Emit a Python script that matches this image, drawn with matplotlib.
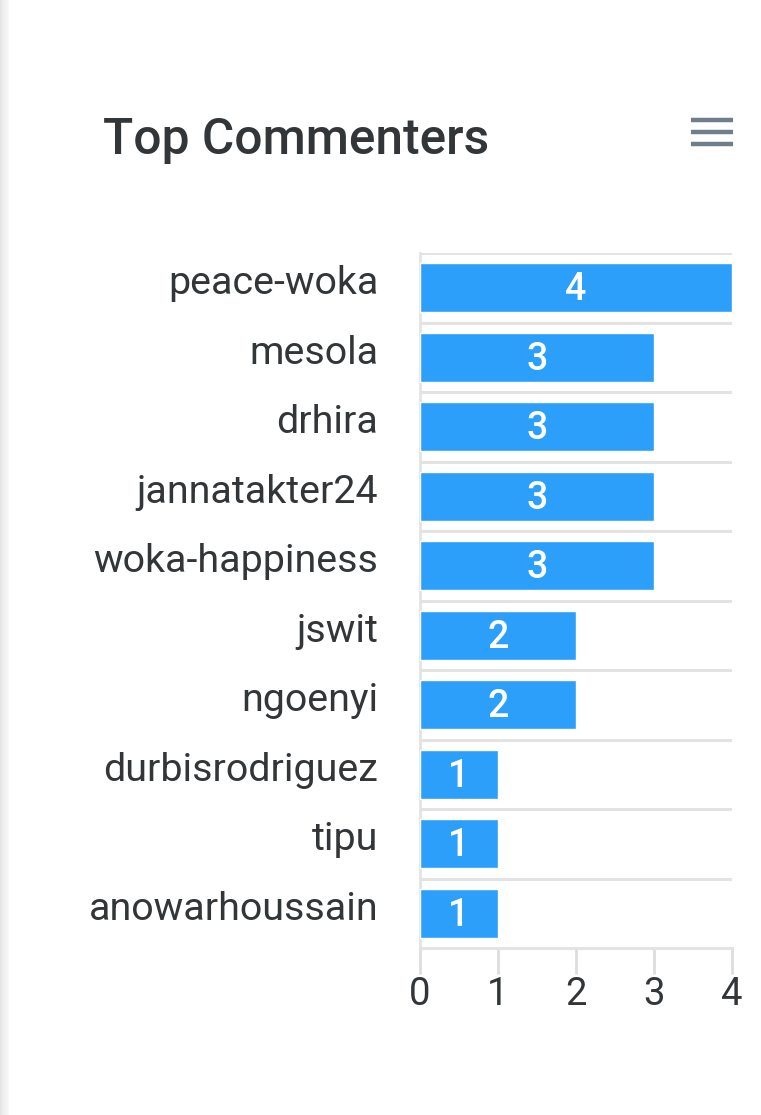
import matplotlib
matplotlib.use("Agg")
import matplotlib.pyplot as plt
from matplotlib.patches import Rectangle
from matplotlib.lines import Line2D
import matplotlib.transforms as mtransforms

names = ["peace-woka", "mesola", "drhira", "jannatakter24", "woka-happiness",
         "jswit", "ngoenyi", "durbisrodriguez", "tipu", "anowarhoussain"]
counts = [4, 3, 3, 3, 3, 2, 2, 1, 1, 1]
xticks = [0, 1, 2, 3, 4]
title = "Top Commenters"

W, H = 761, 1115
dpi = 100
plt.rcParams['font.family'] = ['Roboto', 'DejaVu Sans']
fig = plt.figure(figsize=(W / dpi, H / dpi), dpi=dpi)
fig.patch.set_facecolor("white")

# left shadow strip
for i, c in enumerate(["#e4e4e4", "#e8e8e8", "#ebebeb", "#eeeeee", "#f0f0f0", "#f2f2f2", "#f4f4f4", "#f6f6f6", "#f8f8f8"]):
    fig.add_artist(Rectangle((i / W, 0), 1.0 / W, 1, transform=fig.transFigure, color=c, lw=0))

# title
fig.text(103 / W, 1 - 140 / H, title, fontsize=35.7, fontweight='medium', color="#333638",
         ha='left', va='center')

# hamburger menu
for yy in [120, 132, 144]:
    fig.add_artist(Line2D([691 / W, 733 / W], [1 - yy / H, 1 - yy / H], transform=fig.transFigure,
                          color="#6f7e8c", lw=3.2, solid_capstyle='butt'))

ax = fig.add_axes([420 / W, 1 - 948 / H, 312 / W, 695 / H])
y = list(range(len(names)))
bars = ax.barh(y, counts, height=0.70, color="#2b9ffa", edgecolor="white", linewidth=1, zorder=3)
ax.set_ylim(len(names) - 0.5, -0.5)
ax.set_xlim(0, 4)

ax.set_yticks(y)
ax.set_yticklabels(names, fontsize=28.4, color="#333638")
ax.tick_params(axis='y', length=0, pad=30)
up = mtransforms.ScaledTranslation(0, 8 / dpi, fig.dpi_scale_trans)
for lab in ax.get_yticklabels():
    lab.set_transform(lab.get_transform() + up)
ax.set_yticks([i - 0.5 for i in range(len(names) + 1)], minor=True)
ax.tick_params(axis='y', which='minor', length=0)
ax.grid(axis='y', which='minor', color="#e3e3e3", lw=2.2, zorder=0)
ax.grid(axis='y', which='major', visible=False)
ax.grid(axis='x', visible=False)

ax.set_xticks(xticks)
ax.set_xticklabels([str(t) for t in xticks], fontsize=27.5, color="#333638")
ax.tick_params(axis='x', length=19, width=2, color="#dddddd", pad=1)

for s in ['top', 'right']:
    ax.spines[s].set_visible(False)
ax.spines['bottom'].set_color("#e3e3e3")
ax.spines['bottom'].set_linewidth(2.2)
ax.spines['left'].set_color("#e3e3e3")
ax.spines['left'].set_linewidth(2)

down = mtransforms.ScaledTranslation(0, -2 / dpi, fig.dpi_scale_trans)
for b, v in zip(bars, counts):
    ax.text(v / 2, b.get_y() + b.get_height() / 2, str(v), ha='center', va='center',
            fontsize=27, fontweight='medium', color='white', zorder=4,
            transform=ax.transData + down)

fig.savefig("out.png", dpi=dpi, facecolor="white")
